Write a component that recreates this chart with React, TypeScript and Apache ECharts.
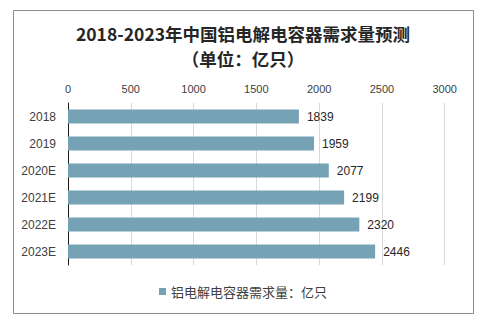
import React, { useEffect, useRef } from "react";
import * as echarts from "echarts";

const categories = ["2018", "2019", "2020E", "2021E", "2022E", "2023E"];
const demand = [1839, 1959, 2077, 2199, 2320, 2446];
const seriesName = "铝电解电容器需求量：亿只";
const titleLine1 = "2018-2023年中国铝电解电容器需求量预测";
const titleLine2 = "（单位：亿只）";

export default function App() {
  const ref = useRef<HTMLDivElement>(null);
  useEffect(() => {
    if (!ref.current) return;
    const chart = echarts.init(ref.current, null, { renderer: "svg" });
    const font = "'Liberation Sans', 'Noto Sans CJK SC', sans-serif";
    const cjk = "'Noto Sans CJK SC', sans-serif";
    chart.setOption({
      animation: false,
      backgroundColor: "#ffffff",
      title: {
        text: titleLine1 + "\n" + titleLine2,
        left: "center",
        top: 16,
        textStyle: {
          fontSize: 17.5,
          fontWeight: "bold",
          color: "#262626",
          fontFamily: cjk,
          lineHeight: 25,
        },
      },
      graphic: [
        {
          type: "rect",
          shape: { x: 13.5, y: 10.5, width: 460, height: 303 },
          style: { fill: "none", stroke: "#8c8c8c", lineWidth: 1 },
          silent: true,
        },
      ],
      legend: {
        bottom: 19,
        left: "center",
        icon: "rect",
        itemWidth: 7,
        itemHeight: 7,
        textStyle: { fontSize: 13, color: "#404040", fontFamily: cjk },
        data: [seriesName],
      },
      grid: { left: 68, right: 41.3, top: 103, bottom: 57, containLabel: false },
      xAxis: {
        type: "value",
        position: "top",
        min: 0,
        max: 3000,
        interval: 500,
        axisLine: { show: false },
        axisTick: { show: false },
        splitLine: { show: true, lineStyle: { color: "#d9d9d9", width: 1 } },
        axisLabel: {
          fontSize: 11,
          color: "#404040",
          fontFamily: font,
          margin: 9,
          formatter: (v: number) => String(v),
        },
      },
      yAxis: {
        type: "category",
        inverse: true,
        data: categories,
        axisLine: { show: true, lineStyle: { color: "#1a1a1a", width: 1 } },
        axisTick: { show: false },
        axisLabel: { fontSize: 12, color: "#404040", fontFamily: font, margin: 12 },
      },
      series: [
        {
          name: seriesName,
          type: "bar",
          data: demand,
          barCategoryGap: "48%",
          itemStyle: { color: "#75a3b5" },
          label: {
            show: true,
            position: "right",
            distance: 8,
            fontSize: 12,
            color: "#262626",
            fontFamily: font,
          },
        },
      ],
    });
    return () => chart.dispose();
  }, []);
  return (
    <div
      ref={ref}
      style={{ position: "fixed", left: 0, top: 0, width: 486, height: 322 }}
    />
  );
}
